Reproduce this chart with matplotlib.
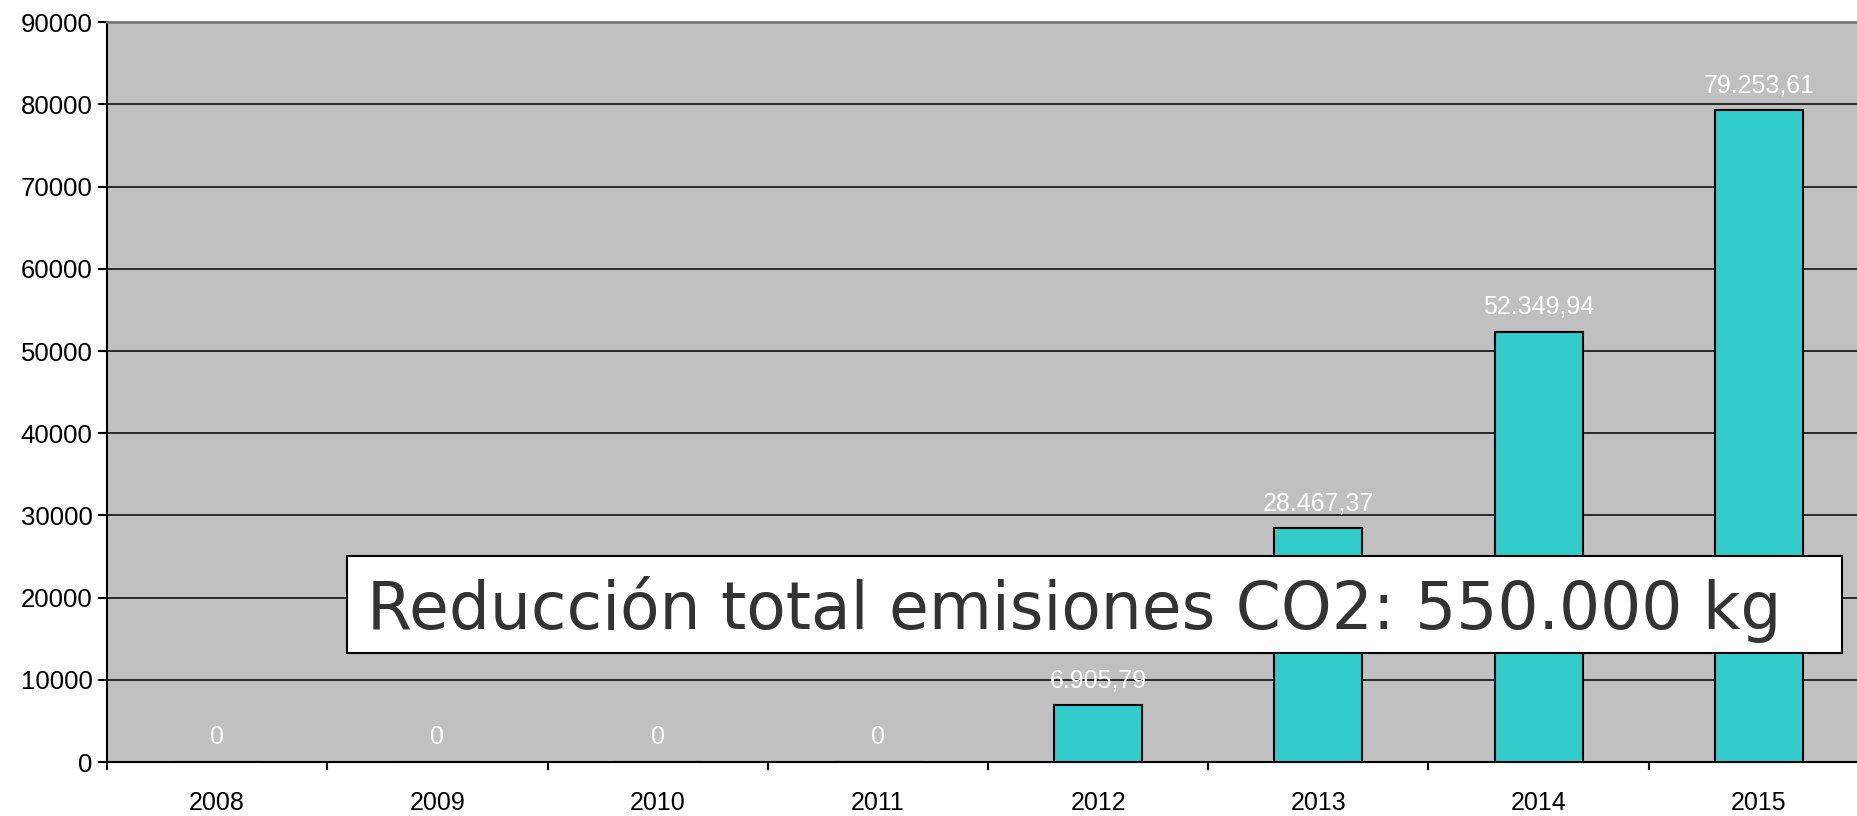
import matplotlib
matplotlib.use("Agg")
import matplotlib.pyplot as plt
from matplotlib.patches import Rectangle

# datos
years = ["2008", "2009", "2010", "2011", "2012", "2013", "2014", "2015"]
reduccion = [0, 0, 0, 0, 6905.79, 28467.37, 52349.94, 79253.61]
y_ticks = [0, 10000, 20000, 30000, 40000, 50000, 60000, 70000, 80000, 90000]
caja_texto = "Reducción total emisiones CO2: 550.000 kg"


def fmt_es(v):
    # formato español: 52.349,94
    if v == 0:
        return "0"
    s = f"{v:,.2f}"
    return s.replace(",", "X").replace(".", ",").replace("X", ".")


plt.rcParams['font.family'] = ['Liberation Sans', 'DejaVu Sans']

fig = plt.figure(figsize=(18.58, 8.16), dpi=100)
ax = fig.add_axes([0.0576, 0.066, 0.9483, 0.9069])
ax.set_facecolor("#C0C0C0")

x = list(range(len(years)))
bars = ax.bar(x, reduccion, width=0.4, color="#33CCCC",
              edgecolor="black", linewidth=1.5, zorder=3)

for xi, v in zip(x, reduccion):
    ax.annotate(fmt_es(v), (xi, v), xytext=(0, 13), textcoords="offset points",
                ha="center", va="baseline", color="white", fontsize=18, zorder=4)

ax.set_xlim(-0.5, 7.5)
ax.set_ylim(0, 90000)
ax.set_yticks(y_ticks)
ax.set_yticklabels([str(t) for t in y_ticks], fontsize=18.5)
ax.yaxis.grid(True, color="black", linewidth=1.1, zorder=1)
ax.set_axisbelow(True)

# etiquetas en el centro, marcas en los limites
ax.set_xticks(x)
ax.set_xticklabels(years, fontsize=18)
ax.set_xticks([i + 0.5 for i in range(-1, len(years))], minor=True)
ax.tick_params(axis="x", which="major", length=0, pad=21)
ax.tick_params(axis="x", which="minor", length=6, width=1.5, direction="out")
ax.tick_params(axis="y", length=6.5, width=1.5, pad=4)

ax.spines["right"].set_visible(False)
ax.spines["top"].set_color("#777777")
ax.spines["top"].set_linewidth(2)
ax.spines["left"].set_linewidth(1.5)
ax.spines["bottom"].set_linewidth(1.5)
ax.spines["top"].set_zorder(5)

# caja con el total
rect = Rectangle((0.59, 13257), 7.377 - 0.59, 25054 - 13257,
                 facecolor="white", edgecolor="black", linewidth=1.5, zorder=6)
ax.add_patch(rect)
ax.text(0.68, 16176, caja_texto, fontsize=46.5, color="#333333",
        family="DejaVu Sans", ha="left", va="baseline", zorder=7)

fig.savefig("out.png", dpi=100)
